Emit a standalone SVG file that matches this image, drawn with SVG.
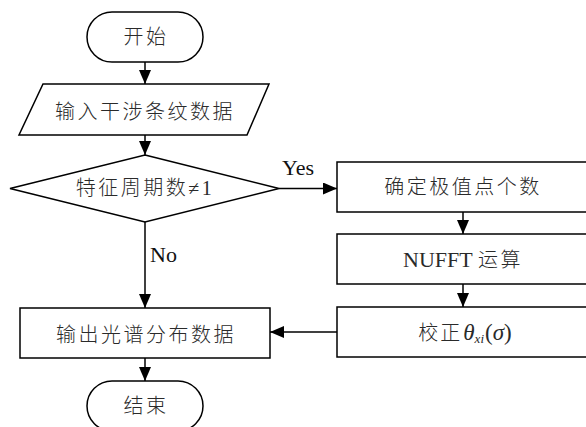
<svg xmlns="http://www.w3.org/2000/svg" width="586" height="427" viewBox="0 0 586 427">
<style>
.s{fill:#fff;stroke:#000;stroke-width:1.5}
.c{stroke:#000;stroke-width:1.5;fill:none;marker-end:url(#ah)}
.t{font-family:"Liberation Serif","Noto Sans CJK SC",serif;font-size:20px;font-weight:300;fill:#2a2a2a;text-anchor:middle;letter-spacing:2.5px}
.l{font-family:"Liberation Serif",serif;font-size:22px;fill:#111}
</style>
<defs>
<marker id="ah" markerUnits="userSpaceOnUse" markerWidth="14" markerHeight="12" refX="14" refY="6" orient="auto">
<path d="M0,0 L14,6 L0,12 Z" fill="#000"/>
</marker>
</defs>
<rect width="586" height="427" fill="#fff"/>
<g id="connectors">
<line class="c" x1="145" y1="62" x2="145" y2="84"/>
<line class="c" x1="145" y1="135" x2="145" y2="155"/>
<line class="c" x1="279" y1="188.5" x2="337" y2="188.5"/>
<text class="l" x="282" y="175">Yes</text>
<line class="c" x1="463" y1="212" x2="463" y2="234"/>
<line class="c" x1="463" y1="284" x2="463" y2="307"/>
<line class="c" x1="337" y1="332" x2="270" y2="332"/>
<line class="c" x1="145" y1="222" x2="145" y2="308"/>
<text class="l" x="150" y="262">No</text>
<line class="c" x1="145" y1="358" x2="145" y2="381"/>
</g>
<g id="start">
<rect class="s" x="87" y="12" width="116" height="50" rx="25"/>
<text class="t" x="146" y="44">开始</text>
</g>
<g id="input">
<polygon class="s" points="43,84 269,84 247,135 19,135"/>
<text class="t" x="145" y="119">输入干涉条纹数据</text>
</g>
<g id="decision">
<polygon class="s" points="145,155 279,188.5 145,222 10,188.5"/>
<text class="t" x="145" y="195">特征周期数≠1</text>
</g>
<g id="extrema">
<rect class="s" x="337" y="162" width="253" height="50"/>
<text class="t" x="463" y="194">确定极值点个数</text>
</g>
<g id="nufft">
<rect class="s" x="337" y="234" width="253" height="50"/>
<text class="t" x="463" y="267"><tspan font-size="22" letter-spacing="0">NUFFT </tspan>运算</text>
</g>
<g id="correct">
<rect class="s" x="337" y="307" width="253" height="50"/>
<text class="t" x="465" y="340" style="letter-spacing:0"><tspan style="letter-spacing:2px">校正</tspan><tspan font-style="italic" font-size="23" dx="1">θ</tspan><tspan font-style="italic" font-size="13" dy="3">xi</tspan><tspan font-size="23" dy="-3" dx="1">(</tspan><tspan font-style="italic" font-size="23">σ</tspan><tspan font-size="23">)</tspan></text>
</g>
<g id="output">
<rect class="s" x="20" y="308" width="250" height="50"/>
<text class="t" x="146" y="342">输出光谱分布数据</text>
</g>
<g id="end">
<rect class="s" x="87" y="381" width="116" height="50" rx="25"/>
<text class="t" x="146" y="413">结束</text>
</g>
</svg>
